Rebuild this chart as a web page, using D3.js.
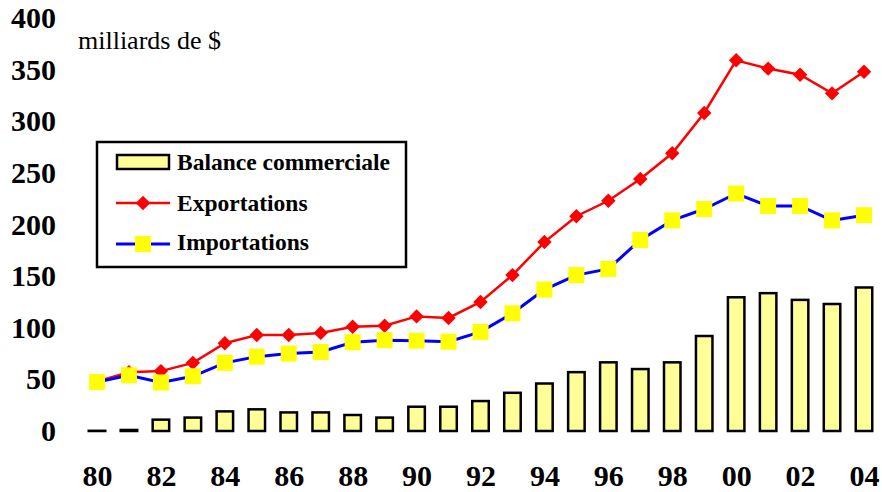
<!DOCTYPE html>
<html>
<head>
<meta charset="utf-8">
<title>Balance commerciale</title>
<script src="https://d3js.org/d3.v7.min.js"></script>
<style>
	body { margin: 0; padding: 0; background: #fff; }
	svg text { font-family: "Liberation Serif", "Times New Roman", serif; }
	.axis text { font-size: 30px; font-weight: bold; fill: #000; }
	.axis .domain, .axis line { display: none; }
	.legend text { font-size: 23.5px; font-weight: bold; }
</style>
</head>
<body>
<div id="graph"></div>
<script>
// years 1980..2004
var years = [1980, 1981, 1982, 1983, 1984, 1985, 1986, 1987, 1988, 1989, 1990, 1991, 1992,
	1993, 1994, 1995, 1996, 1997, 1998, 1999, 2000, 2001, 2002, 2003, 2004];
// milliards de $
var exportations = [48, 57, 58, 66, 85, 93, 93, 95, 101, 102, 111, 109.5, 125,
	151, 183, 208, 223, 244, 269, 308, 359, 351, 345, 327, 348];
var importations = [47.5, 54, 47, 53, 66, 72, 75, 76.5, 86, 88, 87.5, 86.5, 96,
	114, 137, 151, 157, 185, 204, 215, 230, 218, 218, 204, 209];
var balance = [0.2, 1, 11, 13, 19, 21, 18, 18, 15.5, 13, 23.5, 23.5, 29,
	37, 46, 57, 66.5, 60, 66.5, 92, 129.5, 133.5, 127, 123, 139];
var yTicks = [0, 50, 100, 150, 200, 250, 300, 350, 400];
var xTicks = [1980, 1982, 1984, 1986, 1988, 1990, 1992, 1994, 1996, 1998, 2000, 2002, 2004];

var width = 882, height = 492;

var svg = d3.select("#graph").append("svg")
	.attr("width", width)
	.attr("height", height);

var x = d3.scaleLinear().domain([1980, 2004]).range([97, 864]);
var y = d3.scaleLinear().domain([0, 400]).range([431, 18]);

// axes -- labels only, no lines
svg.append("g")
	.attr("class", "axis yaxis")
	.attr("transform", "translate(58,0)")
	.call(d3.axisLeft(y).tickValues(yTicks).tickSize(0).tickPadding(2));

svg.append("g")
	.attr("class", "axis xaxis")
	.attr("transform", "translate(0,458)")
	.call(d3.axisBottom(x).tickValues(xTicks).tickSize(0).tickPadding(7)
		.tickFormat(function (d) { return d3.format("02d")(d % 100); }));

svg.append("text")
	.attr("x", 78)
	.attr("y", 49)
	.style("font-size", "26px")
	.text("milliards de $");

// bars
var barW = 16.5;
svg.selectAll(".bar")
	.data(years)
	.enter().append("rect")
	.attr("class", "bar")
	.attr("x", function (d) { return x(d) - barW / 2; })
	.attr("y", function (d, i) { return y(balance[i]); })
	.attr("width", barW)
	.attr("height", function (d, i) { return y(0) - y(balance[i]); })
	.attr("fill", "#FFFF99")
	.attr("stroke", "#000")
	.attr("stroke-width", 2.5);

var line = d3.line()
	.x(function (d) { return x(d[0]); })
	.y(function (d) { return y(d[1]); });

var expData = years.map(function (d, i) { return [d, exportations[i]]; });
var impData = years.map(function (d, i) { return [d, importations[i]]; });

// exportations
svg.append("path")
	.datum(expData)
	.attr("d", line)
	.attr("fill", "none")
	.attr("stroke", "#FF0000")
	.attr("stroke-width", 2.5);

var diamond = d3.symbol().type(d3.symbolSquare).size(104);
svg.selectAll(".exp")
	.data(expData)
	.enter().append("path")
	.attr("class", "exp")
	.attr("d", diamond)
	.attr("transform", function (d) { return "translate(" + x(d[0]) + "," + y(d[1]) + ") rotate(45)"; })
	.attr("fill", "#FF0000");

// importations
svg.append("path")
	.datum(impData)
	.attr("d", line)
	.attr("fill", "none")
	.attr("stroke", "#0000FF")
	.attr("stroke-width", 3);

var sq = 16;
svg.selectAll(".imp")
	.data(impData)
	.enter().append("rect")
	.attr("class", "imp")
	.attr("x", function (d) { return x(d[0]) - sq / 2; })
	.attr("y", function (d) { return y(d[1]) - sq / 2; })
	.attr("width", sq)
	.attr("height", sq)
	.attr("fill", "#FFFF00");

// legend
var lg = svg.append("g").attr("class", "legend");
lg.append("rect")
	.attr("x", 97).attr("y", 142)
	.attr("width", 309).attr("height", 125)
	.attr("fill", "#fff")
	.attr("stroke", "#000")
	.attr("stroke-width", 2.5);

lg.append("rect")
	.attr("x", 117).attr("y", 155)
	.attr("width", 52).attr("height", 14)
	.attr("fill", "#FFFF99").attr("stroke", "#000").attr("stroke-width", 2.5);
lg.append("text").attr("x", 177).attr("y", 169.5).text("Balance commerciale");

lg.append("line")
	.attr("x1", 116).attr("x2", 170).attr("y1", 203).attr("y2", 203)
	.attr("stroke", "#FF0000").attr("stroke-width", 2.5);
lg.append("path")
	.attr("d", diamond)
	.attr("transform", "translate(143,203) rotate(45)")
	.attr("fill", "#FF0000");
lg.append("text").attr("x", 177).attr("y", 210.5).text("Exportations");

lg.append("line")
	.attr("x1", 116).attr("x2", 170).attr("y1", 244).attr("y2", 244)
	.attr("stroke", "#0000FF").attr("stroke-width", 3);
lg.append("rect")
	.attr("x", 143 - sq / 2).attr("y", 244 - sq / 2)
	.attr("width", sq).attr("height", sq)
	.attr("fill", "#FFFF00");
lg.append("text").attr("x", 177).attr("y", 250).text("Importations");
</script>
</body>
</html>
